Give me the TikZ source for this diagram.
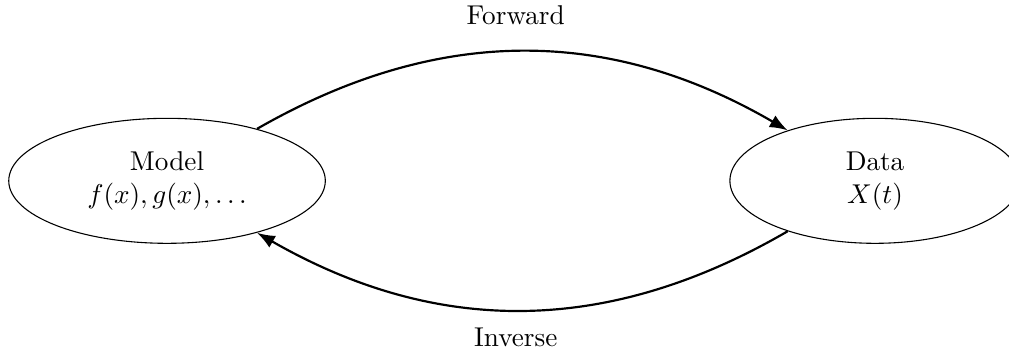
\documentclass[tikz,border=0pt]{standalone}
\usetikzlibrary{shapes.geometric,arrows.meta}

\newcommand{\dims}{
\def\ellh{1.615cm}   % common height of both ellipses
\def\wmod{4.09cm}
\def\wdat{3.75cm}
}

\tikzset{
  blob/.style={ellipse,draw,align=center,inner sep=0pt,minimum height=\ellh},
  flow/.style={thick,-{Latex},bend left=30}
}

\begin{document}
\begin{tikzpicture}
  \dims
  \useasboundingbox (0,0) rectangle (13.036,4.561);
%
  \node[blob,minimum width=\wmod] (model) at (2.158,2.225) {Model\\$f(x), g(x), \ldots$};
  \node[blob,minimum width=\wdat] (data) at (11.305,2.225) {Data\\$X(t)$};
  % forward and inverse maps
  \draw[flow] (model) to node[midway,above=6pt,xshift=-2.5pt] (fwd) {Forward} (data);
  \draw[flow] (data) to node[midway,below=3pt,xshift=-2.5pt] (inv) {Inverse} (model);
\end{tikzpicture}
\end{document}
